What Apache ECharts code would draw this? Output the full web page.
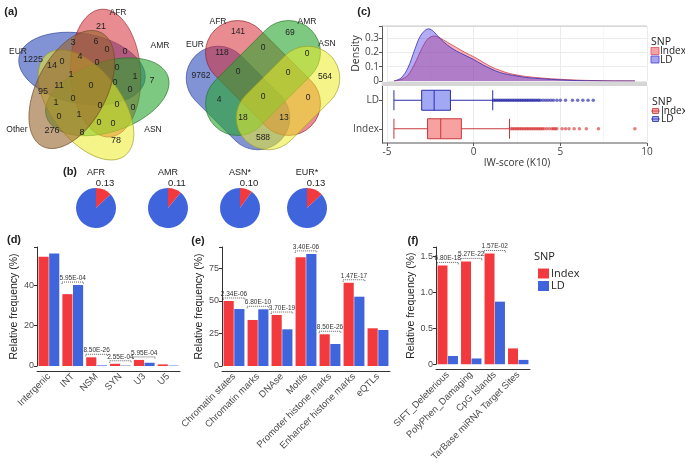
<!DOCTYPE html>
<html><head><meta charset="utf-8">
<script src="https://cdn.jsdelivr.net/npm/echarts@6/dist/echarts.min.js"></script>
<style>html,body{margin:0;padding:0;background:#fff}#c{width:685px;height:464px}</style>
</head><body><div id="c"></div>
<script>
// ================= DATA =================
// (a) Venn diagrams
const vennAllSets = ['EUR', 'AFR', 'AMR', 'ASN', 'Other'];
const vennAllCounts = [1225, 21, 7, 78, 276, 3, 6, 0, 0, 14, 0, 4, 0, 0, 1, 1, 11, 0, 0, 0, 95, 1, 0, 0, 0, 0, 0, 1, 0, 0, 8];
const vennMainSets = ['EUR', 'AFR', 'AMR', 'ASN'];
const vennMainCounts = [141, 69, 118, 0, 0, 9762, 0, 0, 564, 4, 0, 0, 18, 13, 588];
// (b) pies: share of Index SNPs
const pieGroups = ['AFR', 'AMR', 'ASN*', 'EUR*'];
const pieIndexShare = [0.13, 0.11, 0.10, 0.13];
// (c) IW-score density and boxplots
const densityX = [-4.6, -4.2, -3.8, -3.4, -3.1, -2.8, -2.6, -2.3, -2.0, -1.5, -1.0, -0.5, 0, 0.5, 1, 1.5, 2, 2.5, 3, 4, 5, 6, 7, 8, 9.3];
const densityLD = [0, 0.02, 0.09, 0.22, 0.31, 0.355, 0.365, 0.345, 0.305, 0.25, 0.21, 0.18, 0.15, 0.115, 0.085, 0.06, 0.045, 0.035, 0.025, 0.015, 0.008, 0.003, 0.001, 0, 0];
const densityIndex = [0, 0.01, 0.04, 0.12, 0.2, 0.27, 0.3, 0.315, 0.305, 0.27, 0.235, 0.2, 0.17, 0.135, 0.1, 0.075, 0.055, 0.042, 0.032, 0.02, 0.012, 0.006, 0.003, 0.001, 0.0005];
const boxCategories = ['Index', 'LD'];
const boxIndex = [-4.6, -2.66, -1.9, -0.71, 2.07];
const boxLD = [-4.6, -3.0, -2.28, -1.34, 1.1];
const outliersLD = [1.15, 1.25, 1.35, 1.45, 1.55, 1.65, 1.75, 1.85, 1.95, 2.05, 2.15, 2.25, 2.35, 2.45, 2.55, 2.65, 2.75, 2.85, 2.95, 3.05, 3.15, 3.25, 3.35, 3.45, 3.55, 3.65, 3.75, 3.85, 4.0, 4.15, 4.3, 4.45, 4.6, 4.8, 5.0, 5.3, 5.7, 6.0, 6.3, 6.6, 6.9];
const outliersIndex = [2.15, 2.25, 2.35, 2.45, 2.55, 2.65, 2.75, 2.85, 2.95, 3.05, 3.15, 3.25, 3.35, 3.45, 3.55, 3.65, 3.75, 3.85, 3.95, 4.05, 4.2, 4.35, 4.5, 4.6, 4.7, 4.8, 5.1, 5.3, 5.5, 5.8, 6.1, 6.5, 7.2, 9.3];
// (d) functional classes
const dCategories = ['Intergenic', 'INT', 'NSM', 'SYN', 'U3', 'U5'];
const dIndex = [54, 35.5, 4.3, 1.1, 3.0, 0.8];
const dLD = [55.6, 40, 0.3, 0.2, 1.6, 0.2];
const dPvalCats = ['INT', 'NSM', 'SYN', 'U3'];
const dPvals = ['5.95E-04', '8.50E-26', '2.55E-04', '5.95E-04'];
// (e) regulatory annotations
const eCategories = ['Chromatin states', 'Chromatin marks', 'DNAse', 'Motifs', 'Promoter histone marks', 'Enhancer histone marks', 'eQTLs'];
const eIndex = [50, 35.4, 39.2, 83.6, 24.4, 64, 29];
const eLD = [43.8, 43.6, 28.2, 86.2, 16.9, 53.3, 27.7];
const ePvalCats = ['Chromatin states', 'Chromatin marks', 'DNAse', 'Motifs', 'Promoter histone marks', 'Enhancer histone marks'];
const ePvals = ['2.34E-06', '6.80E-10', '3.70E-19', '3.40E-06', '8.50E-26', '1.47E-17'];
// (f) deleterious / miRNA
const fCategories = ['SIFT_Deleterious', 'PolyPhen_Damaging', 'CpG Islands', 'TarBase miRNA Target Sites'];
const fIndex = [1.374, 1.43, 1.54, 0.22];
const fLD = [0.114, 0.08, 0.87, 0.06];
const fPvalCats = ['SIFT_Deleterious', 'PolyPhen_Damaging', 'CpG Islands'];
const fPvals = ['6.80E-18', '5.27E-22', '1.57E-02'];

// ================= LAYOUT / STYLE =================
const C_INDEX = '#f23a3e', C_LD = '#3f64dc';
const FONT = 'Liberation Sans, Arial, sans-serif';
const NARROW = 'Liberation Sans Narrow, Liberation Sans, Arial, sans-serif';
const vennColors = {
  EUR: ['rgba(45,75,185,0.6)', '#2a3f8f'],
  AFR: ['rgba(215,45,55,0.55)', '#8b1a20'],
  AMR: ['rgba(40,165,45,0.6)', '#1f6f22'],
  ASN: ['rgba(235,235,40,0.55)', '#9a9a20'],
  Other: ['rgba(150,100,45,0.6)', '#6b4a22']
};
// ellipse geometry for 5-set diagram: [cx, cy, a, b, angleDeg]
const vennAllShapes = [[82, 68.6, 64, 35, 10.5], [105.7, 73.1, 64, 35, 86.5], [107.3, 96.8, 64, 35, 161.5], [86, 104.9, 64, 35, 52.5], [71.8, 89.5, 64, 35, 297.5]];
const vennAllSetLabelPos = [[18, 52], [118, 13], [160, 46], [153, 130], [17, 130]];
const vennAllCountPos = [[33, 60], [101, 27], [152, 81], [116, 141], [52, 131], [73, 43], [96, 42], [107, 50], [125, 52], [52, 66], [62, 62], [80, 57], [97, 63], [117, 68], [135, 77], [71, 75], [59, 86], [91, 86], [115, 83], [130, 90], [43, 92], [56, 103], [73, 99], [100, 106], [117, 105], [133, 108], [59, 117], [79, 115], [99, 123], [113, 124], [82, 133]];
// pill geometry for 4-set: [cx, cy, halfLen, halfWidth, angleDeg]
const vennMainShapes = [[238, 98, 28, 32, 45], [263, 78, 36, 32, 45], [263, 78, 36, 32, 135], [288, 98, 28, 32, 135]];
const vennMainSetLabelPos = [[195, 45], [218, 22], [307, 22], [327, 44]];
const vennMainCountPos = [[238, 32], [290, 33], [222, 53], [263, 48], [307, 54], [201, 76], [238, 72], [288, 73], [325, 77], [219, 100], [263, 97], [308, 98], [243, 118], [284, 118], [263, 138]];
const pieCenters = [[96, 208], [168, 208], [240, 208], [307, 208]];

const graphics = [];
function txt(x, y, s, size, opts) {
  opts = opts || {};
  graphics.push({
    type: 'text', x: x, y: y, silent: true, z: opts.z || 10,
    style: {
      text: String(s), fill: opts.color || '#222',
      font: (opts.bold ? 'bold ' : '') + size + 'px ' + (opts.family || FONT),
      align: opts.align || 'center', verticalAlign: 'middle',
      textAlign: opts.align || 'center', textVerticalAlign: 'middle'
    }
  });
}
// 5-set venn
vennAllSets.forEach((s, i) => {
  const g = vennAllShapes[i];
  graphics.push({
    type: 'ellipse', x: g[0], y: g[1], rotation: -g[4] * Math.PI / 180, silent: true, z: 1,
    shape: { cx: 0, cy: 0, rx: g[2], ry: g[3] },
    style: { fill: vennColors[s][0], stroke: vennColors[s][1], lineWidth: 0.6 }
  });
  txt(vennAllSetLabelPos[i][0], vennAllSetLabelPos[i][1], s, 8.5);
});
vennAllCounts.forEach((v, i) => txt(vennAllCountPos[i][0], vennAllCountPos[i][1], v, 9));
// 4-set venn
vennMainSets.forEach((s, i) => {
  const g = vennMainShapes[i];
  const L = 2 * g[2] + 2 * g[3];
  graphics.push({
    type: 'rect', x: g[0], y: g[1], rotation: -g[4] * Math.PI / 180, silent: true, z: 1,
    shape: { x: -L / 2, y: -g[3], width: L, height: 2 * g[3], r: g[3] },
    style: { fill: vennColors[s][0], stroke: vennColors[s][1], lineWidth: 0.6 }
  });
  txt(vennMainSetLabelPos[i][0], vennMainSetLabelPos[i][1], s, 8.5);
});
vennMainCounts.forEach((v, i) => txt(vennMainCountPos[i][0], vennMainCountPos[i][1], v, 8.5));
// pie titles
pieGroups.forEach((g, i) => {
  txt(pieCenters[i][0], 173, g, 9);
  txt(pieCenters[i][0] + 9, 183, pieIndexShare[i].toFixed(2), 9.5);
});
// panel letters
[['(a)', 11, 12], ['(b)', 70, 172], ['(c)', 364, 12], ['(d)', 14, 240], ['(e)', 198, 241], ['(f)', 413, 241]]
  .forEach(p => txt(p[1], p[2], p[0], 11, { bold: true }));
// (c) frame decorations
graphics.push({ type: 'line', silent: true, z: 5, shape: { x1: 382, y1: 26, x2: 647, y2: 26 }, style: { stroke: '#c8c8c8', lineWidth: 1 } });
graphics.push({ type: 'rect', silent: true, z: 5, shape: { x: 382, y: 82, width: 265, height: 4 }, style: { fill: '#d6d6d6' } });
graphics.push({ type: 'line', silent: true, z: 6, shape: { x1: 382, y1: 143, x2: 647, y2: 143 }, style: { stroke: '#555', lineWidth: 1 } });
// (c) legends
txt(651, 42.5, 'SNP', 10.5, { align: 'left', family: 'Open Sans, sans-serif' });
graphics.push({ type: 'rect', silent: true, shape: { x: 651, y: 47.5, width: 8, height: 7 }, style: { fill: '#f5a3a6', stroke: '#e05060', lineWidth: 0.8 } });
graphics.push({ type: 'rect', silent: true, shape: { x: 651, y: 56, width: 8, height: 7 }, style: { fill: '#a9a3f0', stroke: '#4a40d0', lineWidth: 0.8 } });
txt(660, 51.5, 'Index', 10, { align: 'left', family: 'Open Sans, sans-serif' });
txt(660, 60, 'LD', 10, { align: 'left', family: 'Open Sans, sans-serif' });
txt(652, 102, 'SNP', 10.5, { align: 'left', family: 'Open Sans, sans-serif' });
[[111, '#f7a1a1', '#c8383d', 'Index'], [119, '#a3a8f5', '#2b2fa8', 'LD']].forEach(k => {
  graphics.push({ type: 'rect', silent: true, shape: { x: 652.5, y: k[0] - 2.5, width: 6, height: 5 }, style: { fill: k[1], stroke: k[2], lineWidth: 0.8 } });
  graphics.push({ type: 'line', silent: true, shape: { x1: 651, y1: k[0], x2: 660, y2: k[0] }, style: { stroke: k[2], lineWidth: 0.8 } });
  txt(661, k[0], k[3], 10, { align: 'left', family: 'Open Sans, sans-serif' });
});
// (f) legend title
txt(534, 257, 'SNP', 11, { align: 'left', family: 'Open Sans, sans-serif' });

// ================= CHART =================
const chart = echarts.init(document.getElementById('c'), null, { renderer: 'canvas' });
const grids = [
  { left: 387, top: 26, width: 260, height: 55 },   // 0 density
  { left: 387, top: 86, width: 260, height: 57 },   // 1 box
  { left: 37, top: 247, width: 143, height: 119 },  // 2 (d)
  { left: 222, top: 247, width: 168, height: 119 }, // 3 (e)
  { left: 436, top: 247, width: 94, height: 119 }   // 4 (f)
];
const tickLbl = { fontSize: 9, color: '#4d4d4d', fontFamily: FONT };
function catAxis(idx, cats) {
  return {
    type: 'category', gridIndex: idx, data: cats, offset: 5,
    axisLine: { onZero: false, lineStyle: { color: '#333', width: 1 } },
    axisTick: { alignWithLabel: true, length: 3, lineStyle: { color: '#333' } },
    axisLabel: { rotate: 45, interval: 0, margin: 4, fontSize: 9.5, color: '#4d4d4d', fontFamily: FONT }
  };
}
function valAxis(idx, max, interval, gap, fmt) {
  return {
    type: 'value', gridIndex: idx, min: 0, max: max, interval: interval,
    name: 'Relative frequency (%)', nameLocation: 'middle', nameGap: gap,
    nameTextStyle: { fontSize: 10.5, color: '#222', fontFamily: FONT },
    axisLine: { show: true, onZero: false, lineStyle: { color: '#333', width: 1 } },
    axisTick: { show: true, length: 3, lineStyle: { color: '#333' } },
    axisLabel: Object.assign({ margin: 3, formatter: v => (Math.abs(v / interval - Math.round(v / interval)) < 1e-6 ? fmt(v) : '') }, tickLbl),
    splitLine: { show: false }
  };
}
function barSeries(name, gi, data, color) {
  return { type: 'bar', name: name, xAxisIndex: gi, yAxisIndex: gi, data: data, barGap: '5%', barCategoryGap: '13%', itemStyle: { color: color }, silent: true };
}
function annotSeries(gi, cats, pcats, pvals, idx, ld) {
  const data = pcats.map(c => { const k = cats.indexOf(c); return [k, Math.max(idx[k], ld[k])]; });
  return {
    type: 'custom', xAxisIndex: gi, yAxisIndex: gi, data: data, silent: true, z: 5,
    renderItem: function (params, api) {
      const p = api.coord([api.value(0), api.value(1)]);
      const bw = api.size([1, 0])[0];
      const h = bw * 0.45;
      const y = p[1] - 3;
      return {
        type: 'group', children: [
          { type: 'polyline', shape: { points: [[p[0] - h, y + 2], [p[0] - h, y], [p[0] + h, y], [p[0] + h, y + 2]] }, style: { stroke: '#333', lineWidth: 0.8, lineDash: [1, 1], fill: null } },
          { type: 'text', x: p[0], y: y - 4, style: { text: pvals[params.dataIndex], fill: '#333', font: '6.5px ' + NARROW, align: 'center', verticalAlign: 'middle', textAlign: 'center', textVerticalAlign: 'middle' } }
        ]
      };
    }
  };
}
const pct = v => String(v);
const cFont = 'Open Sans, sans-serif';

const option = {
  animation: false,
  backgroundColor: '#fff',
  textStyle: { fontFamily: FONT },
  grid: grids,
  legend: {
    data: ['Index', 'LD'], orient: 'vertical', left: 533, top: 263, itemWidth: 11, itemHeight: 10, itemGap: 1.5,
    icon: 'rect', textStyle: { fontSize: 11, color: '#222', fontFamily: cFont, padding: [0, 0, 0, -3] }, selectedMode: false
  },
  xAxis: [
    { type: 'value', gridIndex: 0, min: -5, max: 10, interval: 5, axisLabel: { show: false }, axisTick: { show: false }, axisLine: { show: false, onZero: false },
      splitLine: { show: true, lineStyle: { color: '#e6e6e6', width: 0.8 } }, minorTick: { show: false, splitNumber: 2 }, minorSplitLine: { show: true, lineStyle: { color: '#f2f2f2', width: 0.6 } } },
    { type: 'value', gridIndex: 1, min: -5, max: 10, interval: 5, name: 'IW-score (K10)', nameLocation: 'middle', nameGap: 13,
      nameTextStyle: { fontSize: 10, color: '#333', fontFamily: cFont },
      axisLine: { show: false, onZero: false }, axisTick: { show: true, length: 3, lineStyle: { color: '#555' } },
      axisLabel: { fontSize: 10, color: '#444', margin: 4, fontFamily: cFont },
      splitLine: { show: true, lineStyle: { color: '#e6e6e6', width: 0.8 } }, minorTick: { show: false, splitNumber: 2 }, minorSplitLine: { show: true, lineStyle: { color: '#f2f2f2', width: 0.6 } } },
    catAxis(2, dCategories), catAxis(3, eCategories), catAxis(4, fCategories)
  ],
  yAxis: [
    { type: 'value', gridIndex: 0, min: 0, max: 0.385, interval: 0.1, offset: 5, name: 'Density', nameLocation: 'middle', nameGap: 18,
      nameTextStyle: { fontSize: 10.5, color: '#333', fontFamily: cFont },
      axisLine: { show: true, onZero: false, lineStyle: { color: '#555' } }, axisTick: { show: true, length: 3, lineStyle: { color: '#555' } },
      axisLabel: { fontSize: 10, color: '#444', margin: 3, fontFamily: cFont, formatter: v => (v > 0.35 ? '' : (v === 0 ? '0' : v.toFixed(1))) },
      splitLine: { show: true, lineStyle: { color: '#e6e6e6', width: 0.8 } } },
    { type: 'category', gridIndex: 1, data: boxCategories, offset: 5,
      axisLine: { show: true, onZero: false, lineStyle: { color: '#555' } }, axisTick: { show: true, alignWithLabel: true, length: 3, lineStyle: { color: '#555' } },
      axisLabel: { fontSize: 10, color: '#444', margin: 3, fontFamily: cFont }, splitLine: { show: false } },
    valAxis(2, 58.8, 20, 14, pct), valAxis(3, 91.5, 25, 14.5, pct), valAxis(4, 1.63, 0.5, 17.5, v => (v === 0 ? '0' : v.toFixed(1)))
  ],
  series: [
    { type: 'line', name: 'Index density', xAxisIndex: 0, yAxisIndex: 0, data: densityX.map((x, i) => [x, densityIndex[i]]), smooth: 0.35, showSymbol: false, silent: true,
      lineStyle: { color: '#d04050', width: 0.8 }, areaStyle: { color: 'rgba(240,60,70,0.55)' }, z: 2 },
    { type: 'line', name: 'LD density', xAxisIndex: 0, yAxisIndex: 0, data: densityX.map((x, i) => [x, densityLD[i]]), smooth: 0.35, showSymbol: false, silent: true,
      lineStyle: { color: '#3a30b0', width: 0.8 }, areaStyle: { color: 'rgba(60,40,230,0.55)' }, z: 3 },
    { type: 'boxplot', name: 'box', xAxisIndex: 1, yAxisIndex: 1, boxWidth: [20, 20], silent: true,
      data: [
        { value: boxIndex, itemStyle: { color: '#f7a1a1', borderColor: '#c8383d', borderWidth: 1 } },
        { value: boxLD, itemStyle: { color: '#a3a8f5', borderColor: '#2b2fa8', borderWidth: 1 } }
      ] },
    { type: 'scatter', name: 'LD outliers', xAxisIndex: 1, yAxisIndex: 1, symbolSize: 3.5, silent: true,
      data: outliersLD.map(x => [x, 1]), itemStyle: { color: 'rgba(20,20,160,0.75)' } },
    { type: 'scatter', name: 'Index outliers', xAxisIndex: 1, yAxisIndex: 1, symbolSize: 3.5, silent: true,
      data: outliersIndex.map(x => [x, 0]), itemStyle: { color: 'rgba(210,25,25,0.7)' } },
    barSeries('Index', 2, dIndex, C_INDEX), barSeries('LD', 2, dLD, C_LD),
    barSeries('Index', 3, eIndex, C_INDEX), barSeries('LD', 3, eLD, C_LD),
    barSeries('Index', 4, fIndex, C_INDEX), barSeries('LD', 4, fLD, C_LD),
    annotSeries(2, dCategories, dPvalCats, dPvals, dIndex, dLD),
    annotSeries(3, eCategories, ePvalCats, ePvals, eIndex, eLD),
    annotSeries(4, fCategories, fPvalCats, fPvals, fIndex, fLD)
  ].concat(pieGroups.map((g, i) => ({
    type: 'pie', name: g + ' pie', center: pieCenters[i], radius: 20, startAngle: 90, clockwise: true, silent: true,
    label: { show: false }, labelLine: { show: false },
    data: [
      { value: pieIndexShare[i], name: 'idx', itemStyle: { color: C_INDEX } },
      { value: 1 - pieIndexShare[i], name: 'ld', itemStyle: { color: C_LD } }
    ]
  }))),
  graphic: { elements: graphics }
};
chart.setOption(option);
</script>
</body></html>
